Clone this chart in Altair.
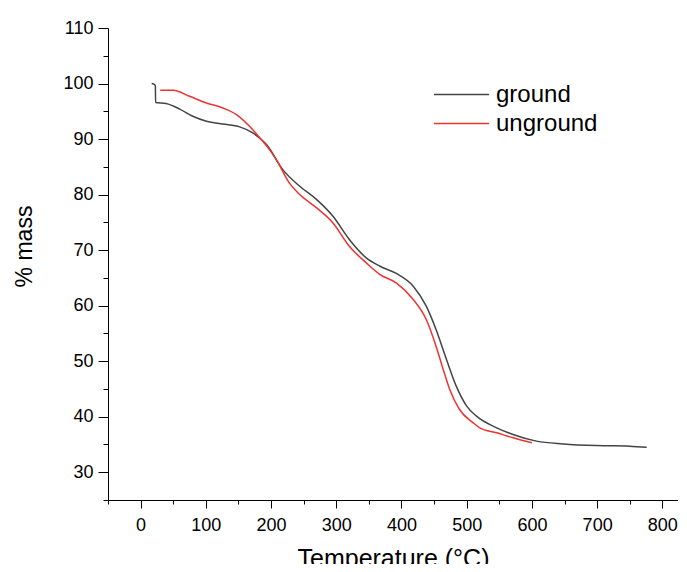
import altair as alt
import pandas as pd

ground_T = [17, 20, 22.6, 23.0, 39, 60, 80, 101, 126, 152, 172, 188, 193, 218, 244, 270, 295, 320, 346, 367, 392, 418, 438, 453, 469, 484, 500, 515, 546, 571, 607, 648, 699, 750, 776]
ground_m = [100.0, 99.9, 99.6, 96.6, 96.4, 95.4, 94.1, 93.2, 92.7, 92.2, 91.1, 89.6, 89.0, 84.5, 81.5, 79.1, 76.1, 71.9, 68.6, 67.1, 65.8, 63.5, 59.9, 55.7, 50.3, 45.5, 41.9, 40.1, 38.0, 36.8, 35.6, 35.1, 34.8, 34.7, 34.5]

unground_T = [30, 50, 75, 101, 126, 147, 167, 183, 195, 208, 228, 244, 270, 295, 320, 346, 367, 392, 418, 438, 453, 464, 474, 489, 510, 520, 546, 571, 600]
unground_m = [98.8, 98.8, 97.7, 96.5, 95.6, 94.4, 92.3, 90.2, 88.5, 86.3, 82.1, 80.0, 77.6, 74.9, 70.7, 67.7, 65.6, 64.1, 61.1, 57.5, 52.7, 48.5, 44.9, 41.3, 38.9, 38.0, 37.1, 36.2, 35.3]

series = ["ground", "unground"]
colors = ["#444444", "#ee3333"]

x_ticks = list(range(-50, 801, 50))
y_ticks = list(range(25, 111, 5))

rows = []
for name, T, m in [("ground", ground_T, ground_m), ("unground", unground_T, unground_m)]:
    for i, (t, v) in enumerate(zip(T, m)):
        rows.append({"sample": name, "T": t, "mass": v, "idx": i})
df = pd.DataFrame(rows)

font = "Liberation Sans"

x_axis = alt.Axis(
    values=x_ticks,
    labelExpr="datum.value % 100 === 0 ? datum.label : ''",
    tickSize={"condition": {"test": "datum.value % 100 === 0", "value": 8}, "value": 4},
    grid=False, domainColor="black", tickColor="black", labelColor="black",
    labelFont=font, labelFontSize=18, labelPadding=8,
    titleFont=font, titleFontSize=25, titleFontWeight="normal", titleColor="black",
    titlePadding=12,
)
y_axis = alt.Axis(
    values=y_ticks,
    labelExpr="datum.value % 10 === 0 ? datum.label : ''",
    tickSize={"condition": {"test": "datum.value % 10 === 0", "value": 10}, "value": 5},
    grid=False, domainColor="black", tickColor="black", labelColor="black",
    labelFont=font, labelFontSize=18, labelPadding=5,
    titleFont=font, titleFontSize=23, titleFontWeight="normal", titleColor="black",
    titleY=218, titlePadding=26,
)

chart = alt.Chart(df).mark_line(strokeWidth=1.5, clip=True, interpolate="monotone").encode(
    x=alt.X("T:Q", title="Temperature (°C)", scale=alt.Scale(domain=[-50, 824], nice=False, zero=False), axis=x_axis),
    y=alt.Y("mass:Q", title="% mass", scale=alt.Scale(domain=[25, 110], nice=False, zero=False), axis=y_axis),
    color=alt.Color("sample:N", scale=alt.Scale(domain=series, range=colors),
                    legend=alt.Legend(orient="none", legendX=325, legendY=51, title=None,
                                      symbolType="M-1,0H2.8", symbolSize=841, symbolStrokeWidth=1.5,
                                      labelFont=font, labelFontSize=24, labelColor="black",
                                      labelLimit=300, labelOffset=32, rowPadding=1)),
    order="idx:Q",
).properties(
    width=570, height=472,
    padding={"left": 100, "top": 20, "right": 0, "bottom": 64},
    autosize=alt.AutoSizeParams(type="none"),
).configure_view(stroke=None)

chart.save("out.html", embed_options={"renderer": "svg", "actions": False})
